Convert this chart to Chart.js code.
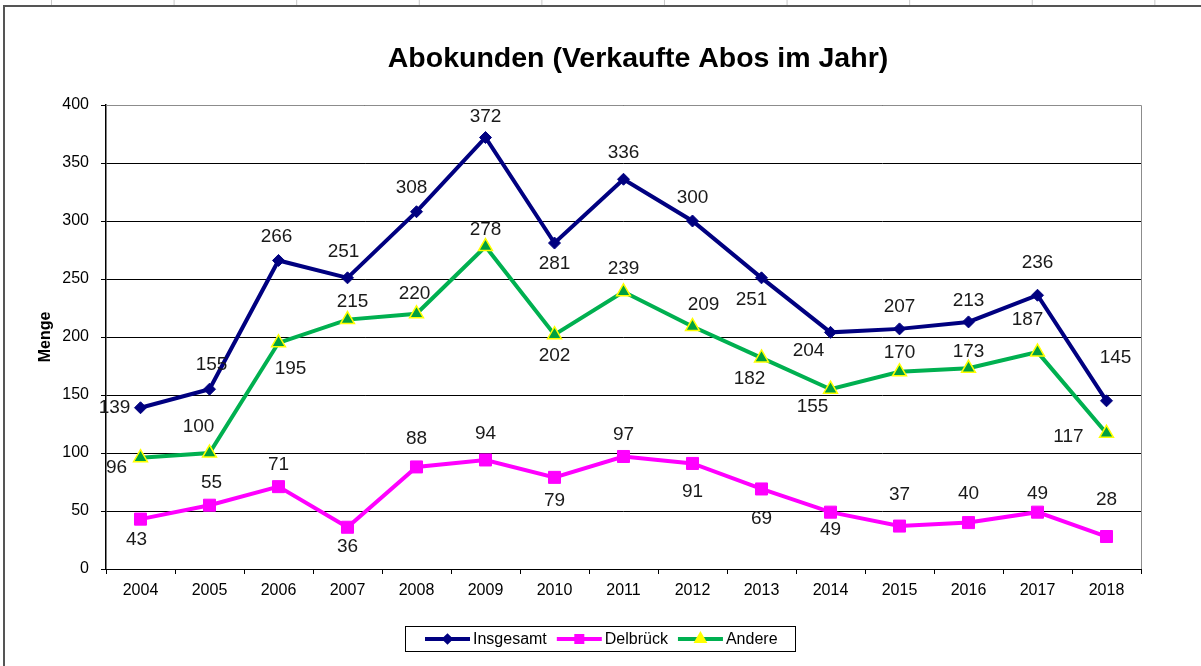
<!DOCTYPE html>
<html>
<head>
<meta charset="utf-8">
<script src="https://cdn.jsdelivr.net/npm/chart.js@4.4.1/dist/chart.umd.min.js"></script>
<style>
  html, body { margin: 0; padding: 0; background: #fff; }
  #wrap { position: absolute; left: 0; top: 0; width: 1201px; height: 666px; }
  #cols { position: absolute; left: 0; top: 0; width: 1201px; height: 5px;
          background-image: linear-gradient(to right, #c8c8c8 1px, transparent 1px);
          background-size: 122.6px 5px; background-position: 51px 0; }
  #frame { position: absolute; left: 3px; top: 5px; width: 1198px; height: 661px;
           border-left: 2px solid #555; border-top: 2px solid #555; box-sizing: border-box; }
  canvas { position: absolute; left: 0; top: 0; }
</style>
</head>
<body>
<div id="wrap">
  <div id="cols"></div>
  <div id="frame"></div>
  <canvas id="aboChart" width="1201" height="666"></canvas>
</div>
<script>
const years = ["2004", "2005", "2006", "2007", "2008", "2009", "2010", "2011", "2012", "2013", "2014", "2015", "2016", "2017", "2018"];
const insgesamt = [139, 155, 266, 251, 308, 372, 281, 336, 300, 251, 204, 207, 213, 236, 145];
const delbrueck = [43, 55, 71, 36, 88, 94, 79, 97, 91, 69, 49, 37, 40, 49, 28];
const andere = [96, 100, 195, 215, 220, 278, 202, 239, 209, 182, 155, 170, 173, 187, 117];
const yTicks = [0, 50, 100, 150, 200, 250, 300, 350, 400];

// label offset from its point, [dx, dy] in px
const labelOffsets = {
    Insgesamt: [[-26, 0], [2, -24], [-2, -24], [-4, -26], [-5, -24], [0, -21], [0, 21], [0, -26], [0, -23],
                [-10, 22], [-22, 18], [0, -22], [0, -21], [0, -32], [9, -43]],
    "Delbrück": [[-4, 21], [2, -22], [0, -22], [0, 20], [0, -28], [0, -26], [0, 23], [0, -22], [0, 28],
                 [0, 30], [0, 18], [0, -31], [0, -29], [0, -18], [0, -37]],
    Andere: [[-24, 10], [-11, -26], [12, 26], [5, -18], [-2, -20], [0, -17], [0, 21], [0, -23], [11, -22],
             [-12, 21], [-18, 18], [0, -19], [0, -17], [-10, -32], [-38, 3]],
};

const FONT = "Arial, 'Liberation Sans', sans-serif";

const valueLabels = {
    id: "valueLabels",
    afterDatasetsDraw(chart) {
        const ctx = chart.ctx;
        ctx.save();
        ctx.font = "19px " + FONT;
        ctx.fillStyle = "#1a1a1a";
        ctx.textAlign = "center";
        ctx.textBaseline = "middle";
        chart.data.datasets.forEach((ds, i) => {
            const meta = chart.getDatasetMeta(i);
            meta.data.forEach((pt, j) => {
                const off = labelOffsets[ds.label][j];
                ctx.fillText(String(ds.data[j]), pt.x + off[0], pt.y + off[1]);
            });
        });
        ctx.restore();
    },
};

const frameTitleLegend = {
    id: "frameTitleLegend",
    beforeDatasetsDraw(chart) {
        const a = chart.chartArea;
        const ctx = chart.ctx;
        ctx.save();
        ctx.strokeStyle = "#8c8c8c";
        ctx.lineWidth = 1;
        ctx.beginPath();
        ctx.moveTo(a.left, a.top + 0.5);
        ctx.lineTo(a.right + 0.5, a.top + 0.5);
        ctx.lineTo(a.right + 0.5, a.bottom);
        ctx.stroke();
        ctx.restore();
    },
    afterDraw(chart) {
        const ctx = chart.ctx;
        ctx.save();
        // title
        ctx.font = "bold 28.5px " + FONT;
        ctx.fillStyle = "#000";
        ctx.textAlign = "center";
        ctx.textBaseline = "middle";
        ctx.fillText("Abokunden (Verkaufte Abos im Jahr)", 638, 59);

        // legend
        ctx.strokeStyle = "#000";
        ctx.lineWidth = 1;
        ctx.strokeRect(405.5, 626.5, 390, 25);
        ctx.font = "16px " + FONT;
        ctx.textAlign = "left";
        let x = 425;
        const y = 639;
        chart.data.datasets.forEach((ds) => {
            ctx.strokeStyle = ds.borderColor;
            ctx.lineWidth = 4;
            ctx.beginPath();
            ctx.moveTo(x, y);
            ctx.lineTo(x + 45, y);
            ctx.stroke();
            ctx.fillStyle = ds.pointBackgroundColor;
            ctx.strokeStyle = ds.pointBorderColor;
            Chart.helpers.drawPoint(ctx, {
                pointStyle: ds.pointStyle,
                radius: ds.pointRadius * 0.5,
                borderWidth: 1,
            }, x + 22.5, y);
            ctx.fillStyle = "#000";
            ctx.fillText(ds.label, x + 48, y + 1);
            x += 48 + ctx.measureText(ds.label).width + 10;
        });
        ctx.restore();
    },
};

const ctx = document.getElementById("aboChart").getContext("2d");

new Chart(ctx, {
    type: "line",
    data: {
        labels: years,
        datasets: [
            {
                label: "Insgesamt",
                data: insgesamt,
                borderColor: "#000080",
                backgroundColor: "#000080",
                pointBackgroundColor: "#000080",
                pointBorderColor: "#000080",
                borderWidth: 4,
                pointStyle: "rectRot",
                pointRadius: 6,
                pointBorderWidth: 1,
                tension: 0,
            },
            {
                label: "Delbrück",
                data: delbrueck,
                borderColor: "#FF00FF",
                backgroundColor: "#FF00FF",
                pointBackgroundColor: "#FF00FF",
                pointBorderColor: "#FF00FF",
                borderWidth: 4,
                pointStyle: "rect",
                pointRadius: 8.5,
                pointBorderWidth: 1,
                tension: 0,
            },
            {
                label: "Andere",
                data: andere,
                borderColor: "#00B050",
                backgroundColor: "#00B050",
                pointBorderColor: "#FFFF00",
                pointBackgroundColor: "#00A040",
                borderWidth: 4,
                pointStyle: "triangle",
                pointRadius: 8,
                pointBorderWidth: 1.5,
                tension: 0,
            },
        ],
    },
    options: {
        responsive: false,
        animation: false,
        layout: { padding: { left: 32, right: 60, top: 105, bottom: 67 } },
        plugins: {
            title: { display: false },
            legend: { display: false },
            tooltip: { enabled: false },
        },
        scales: {
            x: {
                offset: true,
                afterFit: (axis) => { axis.height = 30; },
                grid: {
                    offset: true,
                    drawOnChartArea: false,
                    drawTicks: true,
                    tickLength: 5,
                    color: "#000",
                },
                border: { color: "#000", width: 1 },
                ticks: {
                    color: "#000",
                    font: { family: FONT, size: 16 },
                    padding: 7,
                    maxRotation: 0,
                },
            },
            y: {
                min: 0,
                max: 400,
                afterBuildTicks: (axis) => {
                    axis.ticks = yTicks.map((v) => ({ value: v }));
                },
                afterFit: (axis) => { axis.width = 74; },
                title: {
                    display: true,
                    text: "Menge",
                    color: "#000",
                    font: { family: FONT, size: 16, weight: "bold" },
                    padding: { top: 4, bottom: 0 },
                },
                grid: {
                    color: "#000",
                    lineWidth: 1,
                    tickLength: 5,
                },
                border: { color: "#000", width: 1.5 },
                ticks: {
                    color: "#000",
                    font: { family: FONT, size: 16 },
                    padding: 12,
                },
            },
        },
    },
    plugins: [valueLabels, frameTitleLegend],
});
</script>
</body>
</html>
